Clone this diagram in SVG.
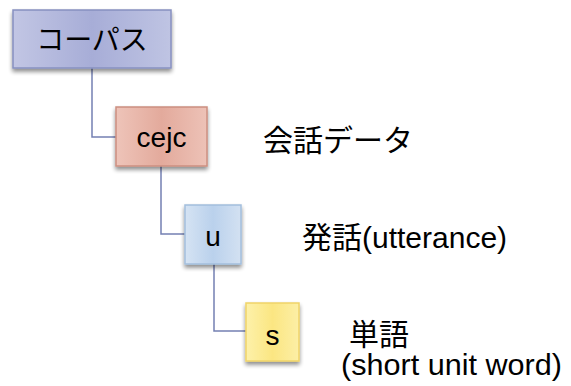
<svg xmlns="http://www.w3.org/2000/svg" width="571" height="386" viewBox="0 0 571 386">
  <defs>
    <filter id="shadow" x="-20%" y="-20%" width="140%" height="150%">
      <feGaussianBlur in="SourceAlpha" stdDeviation="2"/>
      <feOffset dx="0" dy="3" result="b"/>
      <feComponentTransfer><feFuncA type="linear" slope="0.45"/></feComponentTransfer>
      <feMerge><feMergeNode/><feMergeNode in="SourceGraphic"/></feMerge>
    </filter>
    <linearGradient id="gBlue" x1="0" y1="0" x2="1" y2="0">
      <stop offset="0" stop-color="#c2c6e4"/>
      <stop offset="0.5" stop-color="#a7add7"/>
      <stop offset="1" stop-color="#bfc4e3"/>
    </linearGradient>
    <linearGradient id="gRed" x1="0" y1="0" x2="1" y2="0">
      <stop offset="0" stop-color="#eec4b9"/>
      <stop offset="0.5" stop-color="#e3aa9c"/>
      <stop offset="1" stop-color="#edc2b7"/>
    </linearGradient>
    <linearGradient id="gSky" x1="0" y1="0" x2="1" y2="0">
      <stop offset="0" stop-color="#d5e3f3"/>
      <stop offset="0.5" stop-color="#bad1ec"/>
      <stop offset="1" stop-color="#d3e1f2"/>
    </linearGradient>
    <linearGradient id="gYellow" x1="0" y1="0" x2="1" y2="0">
      <stop offset="0" stop-color="#fdf1aa"/>
      <stop offset="0.5" stop-color="#fbe682"/>
      <stop offset="1" stop-color="#fcefa6"/>
    </linearGradient>
  </defs>
  <style>
    .box { stroke-width: 1.5; filter: url(#shadow); }
    .lbl { font-family: "Liberation Sans", "Noto Sans CJK JP", sans-serif; font-size: 28px; fill: #000; }
    .side { font-size: 30px; }
    .mid { text-anchor: middle; }
    .link { fill: none; stroke: #7480b2; stroke-width: 1.5; }
  </style>

  <g id="connectors">
    <path class="link" d="M92 68 V137 H116"/>
    <path class="link" d="M161 166 V234 H185"/>
    <path class="link" d="M214 264 V331 H246"/>
  </g>

  <g id="corpus">
    <rect class="box" x="13" y="10" width="158" height="58" fill="url(#gBlue)" stroke="#8790c0"/>
    <text class="lbl mid" x="92" y="50">コーパス</text>
  </g>

  <g id="cejc">
    <rect class="box" x="116" y="107" width="91" height="59" fill="url(#gRed)" stroke="#cc8f80"/>
    <text class="lbl mid" x="161.5" y="147">cejc</text>
    <text class="lbl side" x="263" y="151">会話データ</text>
  </g>

  <g id="u">
    <rect class="box" x="185" y="205" width="56" height="59" fill="url(#gSky)" stroke="#a3bedd"/>
    <text class="lbl mid" x="213" y="246">u</text>
    <text class="lbl side" x="302" y="248">発話(utterance)</text>
  </g>

  <g id="s">
    <rect class="box" x="246" y="303" width="53" height="58" fill="url(#gYellow)" stroke="#f0d468"/>
    <text class="lbl mid" x="272.5" y="345">s</text>
    <text class="lbl side" x="349" y="345">単語</text>
    <text class="lbl side" x="341" y="375" textLength="221" lengthAdjust="spacingAndGlyphs">(short unit word)</text>
  </g>
</svg>
